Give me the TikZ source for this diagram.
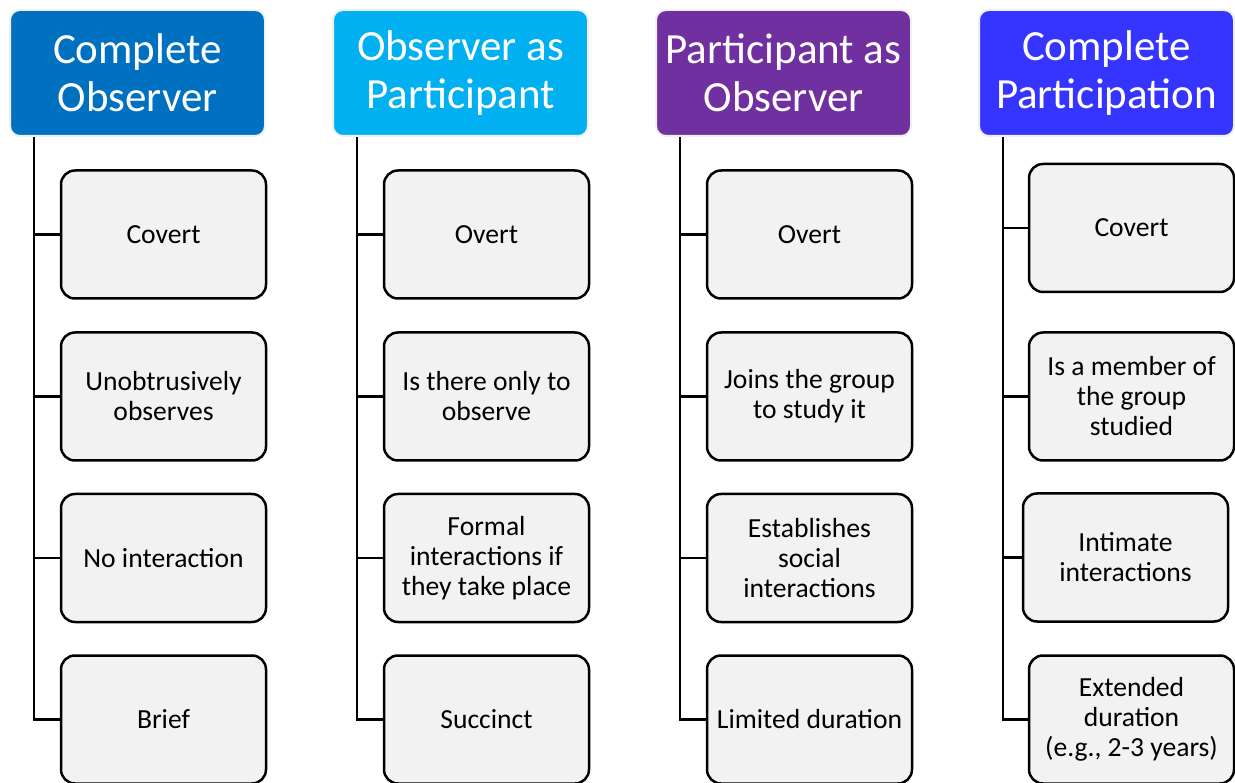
\documentclass[tikz,border=0pt]{standalone}
\usepackage{fontspec}
\setmainfont{Carlito}
\usepackage{xcolor}
\usepackage{tikz}
\usetikzlibrary{positioning}
\definecolor{headA}{HTML}{0070C0}
\definecolor{headB}{HTML}{00B0F0}
\definecolor{headC}{HTML}{7030A0}
\definecolor{headD}{HTML}{3535FF}
\definecolor{itemfill}{HTML}{F2F2F2}

\begin{document}
\begin{tikzpicture}[x=1pt, y=-1pt,
  head/.style={rounded corners=10pt, draw=black!6, line width=2pt, minimum width=255pt, minimum height=126pt,
    text=white, align=center, font=\fontsize{43}{48}\selectfont},
  item/.style={rounded corners=14pt, draw=black, fill=itemfill, line width=2.5pt, minimum width=205pt,
    minimum height=128pt, align=center, font=\fontsize{27.6}{30}\selectfont},
  link/.style={line width=2.5pt}
]
  \useasboundingbox (0,0) rectangle (1235,783);
  \foreach \i/\x/\clr/\title in {1/137.5/headA/{Complete\\Observer}, 2/460.5/headB/{Observer as\\Participant},
      3/783.5/headC/{Participant as\\Observer}, 4/1106.5/headD/{Complete\\Participation}}{
    \node[head, fill=\clr] (H\i) at (\x,73) {\title};
  }
  % column 1
  \node[item] (B11) at (163.5,234.5) {Covert};
  \node[item] (B12) at (163.5,396.5) {Unobtrusively\\observes};
  \node[item] (B13) at (163.5,558) {No interaction};
  \node[item] (B14) at (163.5,719.5) {Brief};
  % column 2
  \node[item] (B21) at (486.5,234.5) {Overt};
  \node[item] (B22) at (486.5,396.5) {Is there only to\\observe};
  \node[item] (B23) at (486.5,558) {Formal\\interactions if\\they take place};
  \node[item] (B24) at (486.5,719.5) {Succinct};
  % column 3
  \node[item] (B31) at (809.5,234.5) {Overt};
  \node[item] (B32) at (809.5,396.5) {Joins the group\\to study it};
  \node[item] (B33) at (809.5,558) {Establishes\\social\\interactions};
  \node[item] (B34) at (809.5,719.5) {Limited duration};
  % column 4
  \node[item] (B41) at (1131.5,228) {Covert};
  \node[item] (B42) at (1131.5,396.5) {Is a member of\\the group\\studied};
  \node[item] (B43) at (1125.5,557.5) {Intimate\\interactions};
  \node[item] (B44) at (1131.5,719.5) {Extended\\duration\\(e.g., 2-3 years)};

  \foreach \i in {1,...,4}{
    \coordinate (S\i) at ([xshift=25pt]H\i.south west);
    \foreach \j in {1,...,4}
      \draw[link] (B\i\j.west) -| (S\i);
  }
\end{tikzpicture}
\end{document}
